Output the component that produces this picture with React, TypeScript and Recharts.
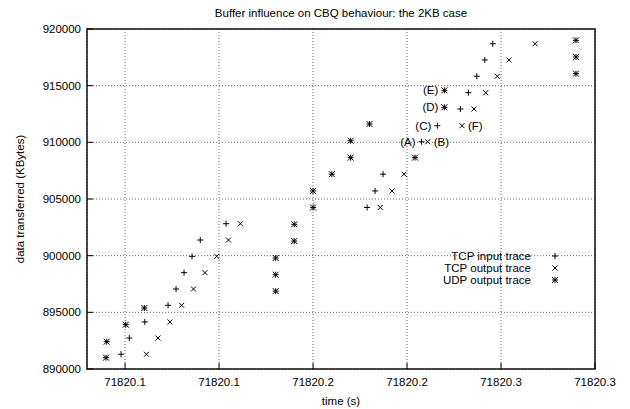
import { ScatterChart, Scatter, XAxis, YAxis, CartesianGrid, ReferenceArea, ReferenceDot } from "recharts";

// time axis: gnuplot printed the ticks with %.1f, hence the repeated labels
const timeTicks = [71820.1, 71820.14, 71820.18, 71820.22, 71820.26, 71820.3];
const timeTickLabels = ["71820.1", "71820.1", "71820.2", "71820.2", "71820.3", "71820.3"];
const kbTicks = [890000, 895000, 900000, 905000, 910000, 915000, 920000];

const tcpInTime = [
  71820.0983, 71820.1018, 71820.1084, 71820.1183, 71820.1217, 71820.1251, 71820.1285, 71820.132, 71820.143,
  71820.203, 71820.2064, 71820.2098, 71820.2262, 71820.2329, 71820.2427, 71820.2461, 71820.2497, 71820.2531, 71820.2565,
];
const tcpInKb = [
  891300, 892730, 894150, 895620, 897060, 898500, 899940, 901380, 902820,
  904250, 905710, 907190, 910050, 911470, 912940, 914380, 915830, 917270, 918700,
];

const tcpOutTime = [
  71820.1091, 71820.114, 71820.1191, 71820.1241, 71820.1291, 71820.134, 71820.139, 71820.144, 71820.1491,
  71820.2086, 71820.2136, 71820.2187, 71820.2288, 71820.2434, 71820.2485, 71820.2535, 71820.2584, 71820.2634, 71820.2745,
];
const tcpOutKb = [
  891300, 892730, 894150, 895620, 897060, 898500, 899940, 901380, 902820,
  904250, 905710, 907190, 910050, 911470, 912940, 914380, 915830, 917270, 918700,
];

const udpOutTime = [
  71820.0919, 71820.0922, 71820.1003, 71820.1082, 71820.1641, 71820.1641, 71820.1641, 71820.172, 71820.172,
  71820.18, 71820.18, 71820.188, 71820.196, 71820.196, 71820.204, 71820.2234, 71820.2359, 71820.2359,
  71820.2919, 71820.2919, 71820.2919,
];
const udpOutKb = [
  891000, 892410, 893910, 895380, 896870, 898320, 899790, 901290, 902770,
  904250, 905710, 907190, 908650, 910140, 911620, 908650, 913090, 914590,
  916060, 917530, 919000,
];

// the (A)..(F) marks of the paper
const noteText = ["(A)", "(B)", "(C)", "(D)", "(E)", "(F)"];
const noteTime = [71820.2262, 71820.2288, 71820.2329, 71820.2359, 71820.2359, 71820.2434];
const noteKb = [910050, 910050, 911470, 913090, 914590, 911470];
const noteSide = ["left", "right", "left", "left", "left", "right"];

const FONT = '"Liberation Sans", Arial, sans-serif';
const FS = 11.5;

const toPoints = (ts: number[], vs: number[]) => ts.map((t, i) => ({ t, v: vs[i] }));

const Plus = (p: any) => (
  <path d={`M${p.cx - 3},${p.cy}h6M${p.cx},${p.cy - 3}v6`} stroke="#000" strokeWidth={1} fill="none" />
);
const Cross = (p: any) => (
  <path d={`M${p.cx - 2.5},${p.cy - 2.5}l5,5M${p.cx - 2.5},${p.cy + 2.5}l5,-5`} stroke="#000" strokeWidth={1} fill="none" />
);
const Star = (p: any) => (
  <path
    d={`M${p.cx - 3},${p.cy}h6M${p.cx},${p.cy - 3}v6M${p.cx - 3},${p.cy - 3}l6,6M${p.cx - 3},${p.cy + 3}l6,-6`}
    stroke="#000"
    strokeWidth={1}
    fill="none"
  />
);

const fmtTime = (v: number) => {
  const i = timeTicks.findIndex((t) => Math.abs(t - v) < 1e-6);
  return i >= 0 ? timeTickLabels[i] : String(v);
};

const legendRows = [
  { name: "TCP input trace", Shape: Plus },
  { name: "TCP output trace", Shape: Cross },
  { name: "UDP output trace", Shape: Star },
];

export default function App() {
  const xDomain: [number, number] = [71820.0838, 71820.3];
  const yDomain: [number, number] = [890000, 920000];
  return (
    <div style={{ position: "absolute", left: 0, top: 0, width: 630, height: 409, background: "#fff", fontFamily: FONT }}>
      <div style={{ position: "absolute", left: 87, top: 6, width: 508, textAlign: "center", fontSize: FS, lineHeight: "14px" }}>
        Buffer influence on CBQ behaviour: the 2KB case
      </div>
      <ScatterChart width={630} height={409} margin={{ top: 29, right: 35, left: 0, bottom: 0 }}>
        <CartesianGrid stroke="#666" strokeDasharray="1 2" />
        <XAxis
          type="number"
          dataKey="t"
          domain={xDomain}
          ticks={timeTicks}
          allowDataOverflow
          tickFormatter={fmtTime}
          height={40}
          axisLine={false}
          tickSize={-6}
          tickMargin={15}
          tickLine={{ stroke: "#000" }}
          tick={{ fill: "#000", fontSize: FS }}
          label={{ value: "time (s)", position: "insideBottom", offset: 4, fill: "#000", fontSize: FS }}
        />
        <XAxis xAxisId="top" orientation="top" type="number" domain={xDomain} ticks={timeTicks} allowDataOverflow height={0} axisLine={false} tick={false} tickSize={-6} tickLine={{ stroke: "#000" }} />
        <YAxis
          type="number"
          dataKey="v"
          domain={yDomain}
          ticks={kbTicks}
          allowDataOverflow
          width={87}
          axisLine={false}
          tickSize={-6}
          tickMargin={12}
          tickLine={{ stroke: "#000" }}
          tick={{ fill: "#000", fontSize: FS }}
          label={{
            content: (props: any) => {
              const vb = props.viewBox;
              const cy = vb.y + vb.height / 2;
              return (
                <text x={20} y={cy} transform={`rotate(-90 20 ${cy})`} textAnchor="middle" dominantBaseline="central" fontSize={FS} fill="#000">
                  data transferred (KBytes)
                </text>
              );
            },
          }}
        />
        <YAxis yAxisId="right" orientation="right" type="number" domain={yDomain} ticks={kbTicks} allowDataOverflow width={0} axisLine={false} tick={false} tickSize={-6} tickLine={{ stroke: "#000" }} />
        <ReferenceArea x1={xDomain[0]} x2={xDomain[1]} y1={yDomain[0]} y2={yDomain[1]} fill="none" stroke="#111" strokeWidth={1.5} ifOverflow="visible" />
        <Scatter data={toPoints(tcpInTime, tcpInKb)} shape={Plus} isAnimationActive={false} />
        <Scatter data={toPoints(tcpOutTime, tcpOutKb)} shape={Cross} isAnimationActive={false} />
        <Scatter data={toPoints(udpOutTime, udpOutKb)} shape={Star} isAnimationActive={false} />
        {noteText.map((txt, i) => (
          <ReferenceDot
            key={txt}
            x={noteTime[i]}
            y={noteKb[i]}
            r={0}
            fill="none"
            stroke="none"
            label={{ value: txt, position: noteSide[i] as any, offset: 6, fill: "#000", fontSize: FS }}
          />
        ))}
      </ScatterChart>
      <div style={{ position: "absolute", left: 400, top: 250, width: 162, fontSize: FS }}>
        {legendRows.map(({ name, Shape }) => (
          <div key={name} style={{ display: "flex", justifyContent: "flex-end", alignItems: "center", height: 12, lineHeight: "12px" }}>
            <span>{name}</span>
            <svg width={14} height={12} style={{ marginLeft: 17 }}>
              <Shape cx={7} cy={6} />
            </svg>
          </div>
        ))}
      </div>
    </div>
  );
}
